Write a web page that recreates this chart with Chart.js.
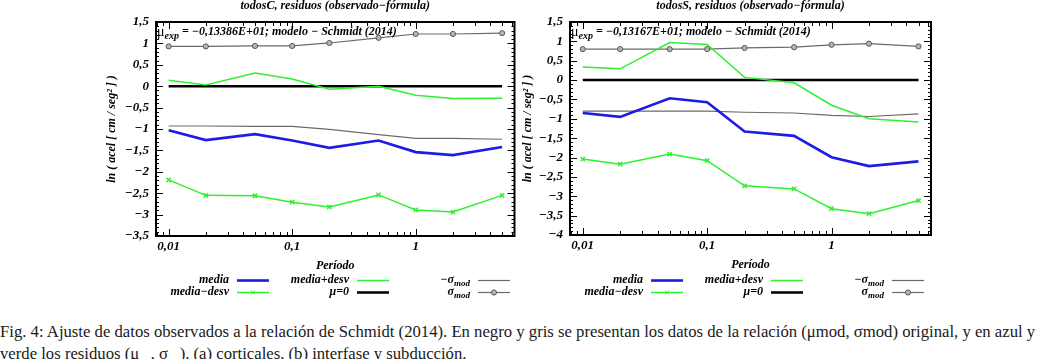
<!DOCTYPE html>
<html>
<head>
<meta charset="utf-8">
<script src="https://cdn.jsdelivr.net/npm/chart.js@4.4.1/dist/chart.umd.min.js"></script>
<style>
  body { margin: 0; background: #fff; width: 1039px; height: 359px; overflow: hidden; position: relative; }
  canvas { position: absolute; top: 0; }
  #cap { position: absolute; left: 0; top: 321px; font: 16.7px 'Liberation Serif', serif; line-height: 22px; white-space: nowrap; color: #1a1a1a; }
  #cap sub { font-size: 8px; }
</style>
</head>
<body>
<canvas id="chartC" width="520" height="300" style="left:0"></canvas>
<canvas id="chartS" width="539" height="300" style="left:500px"></canvas>
<div id="cap">Fig. 4: Ajuste de datos observados a la relación de Schmidt (2014). En negro y gris se presentan los datos de la relación (μmod, σmod) original, y en azul y<br>verde los residuos (μ<sub>exp</sub>, σ<sub>exp</sub>). (a) corticales, (b) interfase y subducción.</div>
<script>
const periodos = [0.01, 0.02, 0.05, 0.1, 0.2, 0.5, 1, 2, 5];
const xTickValues = [0.01, 0.1, 1];
const xTickLabels = ['0,01', '0,1', '1'];

// (a) todosC
const mediaC      = [-1.03, -1.26, -1.12, -1.27, -1.44, -1.27, -1.54, -1.61, -1.42];
const mediaMenosC = [-2.19, -2.55, -2.56, -2.71, -2.82, -2.54, -2.89, -2.94, -2.55];
const mediaMasC   = [0.14, 0.03, 0.31, 0.17, -0.07, 0.0, -0.21, -0.29, -0.28];
const ceroC       = [0, 0, 0, 0, 0, 0, 0, 0, 0];
const menosSigmaC = [-0.93, -0.93, -0.94, -0.94, -1.01, -1.13, -1.22, -1.22, -1.24];
const sigmaC      = [0.93, 0.93, 0.94, 0.94, 1.01, 1.13, 1.22, 1.22, 1.24];

// (b) todosS
const mediaS      = [-0.85, -0.95, -0.47, -0.57, -1.33, -1.44, -1.99, -2.22, -2.10];
const mediaMenosS = [-2.04, -2.17, -1.91, -2.08, -2.73, -2.81, -3.32, -3.45, -3.11];
const mediaMasS   = [0.34, 0.29, 0.97, 0.92, 0.07, -0.07, -0.65, -1.00, -1.08];
const ceroS       = [0, 0, 0, 0, 0, 0, 0, 0, 0];
const menosSigmaS = [-0.80, -0.80, -0.80, -0.80, -0.83, -0.85, -0.91, -0.94, -0.87];
const sigmaS      = [0.80, 0.80, 0.80, 0.80, 0.83, 0.85, 0.91, 0.94, 0.87];

const legendLabels = ['media', 'media\u2212desv', 'media+desv', '\u03bc=0', '\u2212\u03c3', '\u03c3'];
const legendSubs   = ['', '', '', '', 'mod', 'mod'];

const SERIF = "'Liberation Serif', 'DejaVu Serif', serif";
const fontBI = { family: SERIF, size: 12, style: 'italic', weight: 'bold' };
const fontTick = { family: SERIF, size: 13, style: 'italic', weight: 'bold' };
const AZUL = '#1c1ce6';
const VERDE = '#2ef02e';
const GRIS = '#6a6a6a';

const fmt = v => String(Math.round(v * 10) / 10).replace('.', ',').replace('-', '\u2212');
const pts = arr => periodos.map((p, i) => ({ x: p, y: arr[i] }));

// frame with inward ticks, gnuplot style
const marcoPlugin = {
    id: 'marco',
    afterDatasetsDraw(chart) {
        const { ctx, chartArea: a, scales: { x, y } } = chart;
        ctx.save();
        ctx.strokeStyle = '#000';
        ctx.lineWidth = 1;
        ctx.beginPath();
        [0.001, 0.01, 0.1, 1].forEach(d => {
            for (let k = 1; k < 10; k++) {
                const v = d * k;
                if (v < x.min || v > x.max) continue;
                const px = Math.round(x.getPixelForValue(v)) + 0.5;
                const len = k === 1 ? 7 : 4;
                ctx.moveTo(px, a.bottom); ctx.lineTo(px, a.bottom - len);
                ctx.moveTo(px, a.top); ctx.lineTo(px, a.top + len);
            }
        });
        for (let i = 0; ; i++) {
            const v = y.max - i * 0.1;
            if (v < y.min - 1e-6) break;
            const py = Math.round(y.getPixelForValue(v)) + 0.5;
            const len = Math.abs(v * 2 - Math.round(v * 2)) < 1e-6 ? 7 : 3;
            ctx.moveTo(a.left, py); ctx.lineTo(a.left + len, py);
            ctx.moveTo(a.right, py); ctx.lineTo(a.right - len, py);
        }
        ctx.stroke();
        ctx.lineWidth = 2;
        ctx.strokeRect(a.left, a.top, a.right - a.left, a.bottom - a.top);
        ctx.restore();
    }
};

// text with a subscript, right aligned at xEnd
function textoSub(ctx, main, sub, xEnd, y) {
    ctx.font = 'italic bold 12px ' + SERIF;
    const w1 = ctx.measureText(main).width;
    ctx.font = 'italic bold 9px ' + SERIF;
    const w2 = sub ? ctx.measureText(sub).width : 0;
    const x0 = xEnd - w1 - w2;
    ctx.font = 'italic bold 12px ' + SERIF;
    ctx.fillText(main, x0, y);
    if (sub) {
        ctx.font = 'italic bold 9px ' + SERIF;
        ctx.fillText(sub, x0 + w1, y + 4);
    }
}

const leyendaPlugin = {
    id: 'leyenda',
    afterDraw(chart) {
        const { ctx, chartArea: a } = chart;
        const colEnd = [73, 193, 314];
        ctx.save();
        ctx.textBaseline = 'middle';
        ctx.textAlign = 'left';
        chart.data.datasets.forEach((ds, i) => {
            const col = Math.floor(i / 2), row = i % 2;
            const xEnd = a.left + colEnd[col];
            const y = 280 + row * 12;
            ctx.fillStyle = '#000';
            textoSub(ctx, legendLabels[i], legendSubs[i], xEnd, y);
            ctx.strokeStyle = ds.borderColor;
            ctx.lineWidth = ds.borderWidth;
            ctx.beginPath();
            ctx.moveTo(xEnd + 8, y + 0.5);
            ctx.lineTo(xEnd + 40, y + 0.5);
            ctx.stroke();
            if (ds.pointRadius > 0) {
                ctx.fillStyle = ds.pointBackgroundColor || ds.borderColor;
                ctx.strokeStyle = ds.pointBorderColor || ds.borderColor;
                ctx.lineWidth = 1;
                Chart.helpers.drawPoint(ctx, { pointStyle: ds.pointStyle, radius: ds.pointRadius, borderWidth: 1, rotation: 0 }, xEnd + 24, y + 0.5);
            }
        });

        // inner label
        const muExp = chart.options.plugins.muExp;
        let x = a.left + 1;
        const yl = a.top + 10;
        ctx.fillStyle = '#000';
        ctx.font = '14px ' + SERIF;
        ctx.fillText('\u03bc', x, yl);
        x += ctx.measureText('\u03bc').width;
        ctx.font = 'italic bold 10px ' + SERIF;
        ctx.fillText('exp', x, yl + 4);
        x += ctx.measureText('exp').width;
        ctx.font = 'italic bold 12px ' + SERIF;
        ctx.fillText(' = ' + muExp + '; modelo \u2212 Schmidt (2014)', x, yl);
        ctx.restore();
    }
};

function crearGrafico(id, titulo, muExp, series, yMin, pad) {
    const [media, menos, mas, cero, menosSig, sig] = series;
    return new Chart(document.getElementById(id), {
        type: 'line',
        data: {
            datasets: [
                { label: legendLabels[0], data: pts(media), borderColor: AZUL, borderWidth: 2.6, pointRadius: 0 },
                { label: legendLabels[1], data: pts(menos), borderColor: VERDE, borderWidth: 1.5, pointRadius: 3, pointStyle: 'crossRot', pointBorderWidth: 1.5 },
                { label: legendLabels[2], data: pts(mas), borderColor: VERDE, borderWidth: 1.5, pointRadius: 0 },
                { label: legendLabels[3], data: pts(cero), borderColor: '#000', borderWidth: 2.5, pointRadius: 0 },
                { label: legendLabels[4], data: pts(menosSig), borderColor: GRIS, borderWidth: 1.2, pointRadius: 0 },
                { label: legendLabels[5], data: pts(sig), borderColor: GRIS, borderWidth: 1.2, pointRadius: 2.6, pointStyle: 'circle',
                  pointBackgroundColor: '#b4b4b4', pointBorderColor: '#5a5a5a', pointBorderWidth: 1 }
            ]
        },
        options: {
            responsive: false,
            animation: false,
            devicePixelRatio: 1,
            layout: { padding: pad },
            elements: { line: { tension: 0 } },
            plugins: {
                legend: { display: false },
                tooltip: { enabled: false },
                muExp: muExp,
                title: {
                    display: true, text: titulo, fullSize: false, color: '#000',
                    font: Object.assign({}, fontBI, { lineHeight: 1 }),
                    padding: { top: 0, bottom: 10 }
                }
            },
            scales: {
                x: {
                    type: 'logarithmic', min: 0.0079, max: 6.3,
                    grid: { display: false, drawTicks: false },
                    border: { display: false },
                    afterBuildTicks: s => { s.ticks = xTickValues.map(v => ({ value: v })); },
                    afterFit: s => { s.height = 37; },
                    ticks: {
                        autoSkip: false, maxRotation: 0, padding: 3, color: '#000', font: fontTick,
                        callback: (v, i) => xTickLabels[i]
                    },
                    title: { display: true, text: 'Período', color: '#000', font: fontBI, padding: 0 }
                },
                y: {
                    min: yMin, max: 1.5,
                    grid: { display: false, drawTicks: false },
                    border: { display: false },
                    afterFit: s => { s.width = pad.yw; },
                    ticks: { stepSize: 0.5, padding: 7, color: '#000', font: fontTick, callback: v => fmt(v) },
                    title: { display: true, text: 'ln ( acel [ cm / seg\u00b2 ] )', color: '#000', font: fontBI, padding: 0 }
                }
            }
        },
        plugins: [marcoPlugin, leyendaPlugin]
    });
}

crearGrafico('chartC', 'todosC, residuos (observado\u2212fórmula)', '\u22120,13386E+01',
    [mediaC, mediaMenosC, mediaMasC, ceroC, menosSigmaC, sigmaC], -3.5,
    { left: 105, right: 2, top: 0, bottom: 27, yw: 51 });

crearGrafico('chartS', 'todosS, residuos (observado\u2212fórmula)', '\u22120,13167E+01',
    [mediaS, mediaMenosS, mediaMasS, ceroS, menosSigmaS, sigmaS], -4,
    { left: 21, right: 108, top: 0, bottom: 28, yw: 49 });
</script>
</body>
</html>
